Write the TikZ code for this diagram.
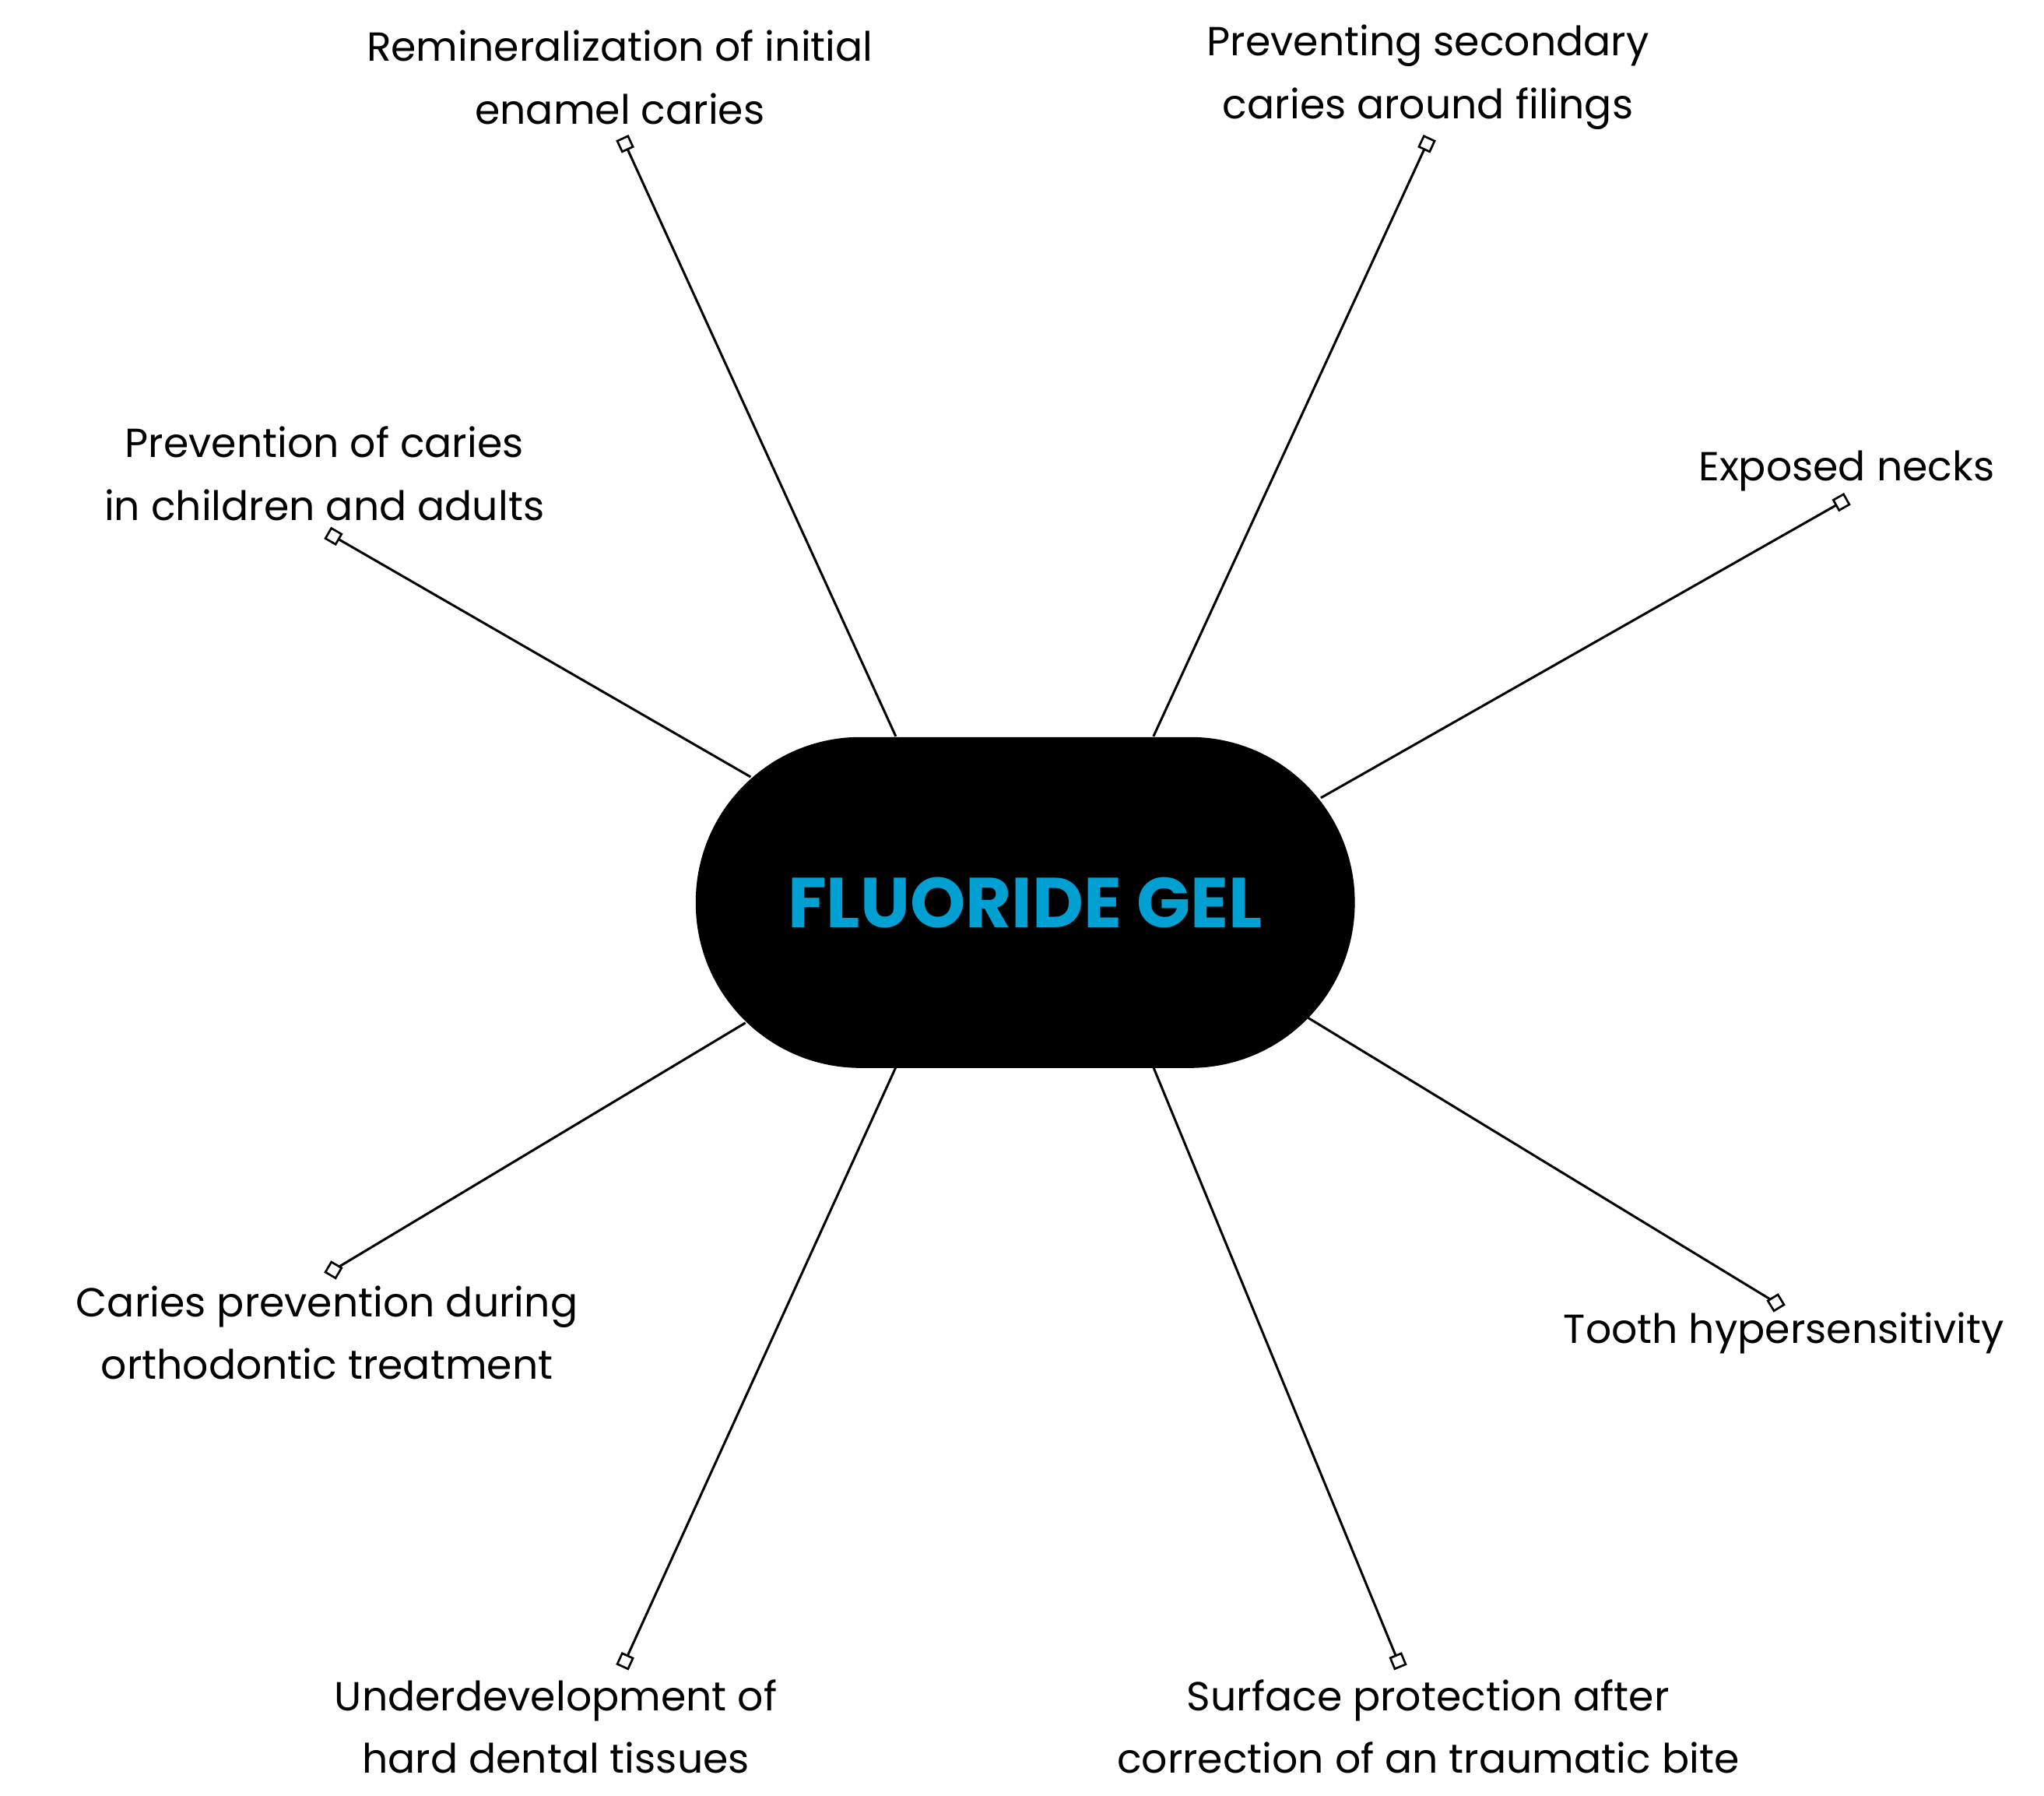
\documentclass[tikz,border=0pt]{standalone}
\usepackage{fontspec}
\setmainfont{Poppins}
\definecolor{fcyan}{RGB}{0,160,210}
\begin{document}
\begin{tikzpicture}[x=1pt,y=-1pt,
  lbl/.style={align=center,font=\fontsize{31}{48}\selectfont,inner sep=0pt},
  mk/.style={draw,fill=white,line width=1.6pt,minimum size=9pt,inner sep=0pt,rectangle},
  ln/.style={line width=1.8pt}]
\useasboundingbox (0,0) rectangle (1563,1373);
\node[fill=black,rounded corners=126pt,minimum width=504pt,minimum height=253pt] (c) at (784,690) {};
\node[text=fcyan,font=\fontsize{54}{60}\selectfont\bfseries] (t) at (784,690) {FLUORIDE GEL};
\coordinate (a1) at (685,563); \coordinate (a2) at (882,563);
\coordinate (a3) at (574,594); \coordinate (a4) at (1010,610);
\coordinate (a5) at (570,782); \coordinate (a6) at (1000,778);
\coordinate (a7) at (685,816); \coordinate (a8) at (882,816);
\draw[ln] (a1) -- (478,110) coordinate (p1);
\draw[ln] (a2) -- (1091,110) coordinate (p2);
\draw[ln] (a3) -- (255,410) coordinate (p3);
\draw[ln] (a4) -- (1408,384) coordinate (p4);
\draw[ln] (a5) -- (255,971) coordinate (p5);
\draw[ln] (a6) -- (1358,996) coordinate (p6);
\draw[ln] (a7) -- (478,1270) coordinate (p7);
\draw[ln] (a8) -- (1069,1270) coordinate (p8);
\node[mk,rotate=-65.4] (m1) at (p1) {};
\node[mk,rotate=65.2] (m2) at (p2) {};
\node[mk,rotate=-30] (m3) at (p3) {};
\node[mk,rotate=29.6] (m4) at (p4) {};
\node[mk,rotate=-30.6] (m5) at (p5) {};
\node[mk,rotate=31.3] (m6) at (p6) {};
\node[mk,rotate=65.5] (m7) at (p7) {};
\node[mk,rotate=-67.6] (m8) at (p8) {};
\node[lbl] (l1) at (474,59) {Remineralization of initial\\enamel caries};
\node[lbl] (l2) at (1092,59) {Preventing secondary\\caries around filings};
\node[lbl] (l3) at (248,362) {Prevention of caries\\in children and adults};
\node[lbl] (l4) at (1412,360) {Exposed necks};
\node[lbl] (l5) at (250,1019) {Caries prevention during\\orthodontic treatment};
\node[lbl] (l6) at (1364,1019) {Tooth hypersensitivity};
\node[lbl] (l7) at (425,1320) {Underdevelopment of\\hard dental tissues};
\node[lbl] (l8) at (1092,1320) {Surface protection after\\correction of an traumatic bite};
\end{tikzpicture}
\end{document}
